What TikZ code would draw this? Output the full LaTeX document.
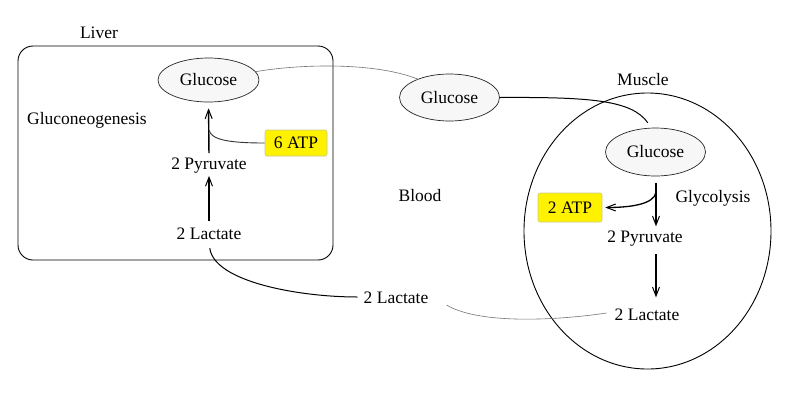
\documentclass[tikz,border=0pt]{standalone}
\usepackage{fontspec}
\setmainfont{Liberation Serif}
\usetikzlibrary{shapes.geometric,arrows.meta,calc}
\definecolor{ellfill}{HTML}{F7F7F7}
\definecolor{atpborder}{HTML}{C8C890}
\begin{document}
\begin{tikzpicture}[x=1pt,y=-1pt,
  every node/.style={font=\fontsize{17.5}{20}\selectfont, inner sep=2pt},
  mol/.style={ellipse, draw=black!85, fill=ellfill, line width=0.7pt, inner sep=0pt},
  atpbox/.style={rectangle, rounded corners=2pt, draw=atpborder, fill=yellow, line width=0.6pt, inner sep=0pt},
  lbl/.style={},
  arr/.style={line width=1.4pt, -{Straight Barb[length=9pt,width=7pt,line width=1pt]}},
  thinlink/.style={draw=black!55, line width=0.6pt},
  darklink/.style={draw=black, line width=1pt},
  organ/.style={draw=black, line width=0.9pt}
]
\useasboundingbox (0,0) rectangle (800,400);

% compartments
\node[organ, rectangle, rounded corners=15pt, minimum width=315pt, minimum height=214pt] (liver) at (175.5,153) {};
\node[organ, ellipse, minimum width=247pt, minimum height=276pt] (muscle) at (647.5,231) {};

% labels
\node[lbl] (liverlbl) at (99,33) {Liver};
\node[lbl] (musclelbl) at (643,80) {Muscle};
\node[lbl] (gluconeo) at (87,120) {Gluconeogenesis};
\node[lbl] (blood) at (420,196) {Blood};
\node[lbl] (glyco) at (713,198) {Glycolysis};

% liver
\node[mol, minimum width=101pt, minimum height=44pt] (lglu) at (208.5,80) {Glucose};
\node[atpbox, minimum width=62pt, minimum height=26pt] (atp6) at (296,143) {6 ATP};
\node (lpyr) at (209,166) {2 Pyruvate};
\node (llac) at (209,234) {2 Lactate};

% blood
\node[mol, minimum width=100pt, minimum height=47pt] (bglu) at (449.5,97.5) {Glucose};
\node (mlac) at (396,298) {2 Lactate};

% muscle
\node[mol, minimum width=100pt, minimum height=48pt] (rglu) at (655.5,152) {Glucose};
\node[atpbox, minimum width=64pt, minimum height=29pt] (atp2) at (570,207.5) {2 ATP};
\node (rpyr) at (645,239) {2 Pyruvate};
\node (rlac) at (647,315) {2 Lactate};

% liver arrows
\draw[arr, shorten <=5pt] (llac.north) -- (lpyr.south);
\draw[arr, shorten <=3pt, shorten >=6pt] (lpyr.north) -- (lglu.south);
\coordinate (j6) at (209,130);
\draw[line width=0.9pt, draw=black!80] (atp6.west) .. controls (230,143) and (211,140) .. (j6);

% muscle arrows
\coordinate (m1) at ($(rglu.south)+(0.5,7)$);
\coordinate (m2) at ($(rglu.south)+(0.5,50)$);
\coordinate (m3) at ($(rglu.south)+(0.5,78)$);
\coordinate (m4) at ($(rglu.south)+(0.5,121)$);
\draw[arr] (m1) -- (m2);
\draw[arr] (m3) -- (m4);
\coordinate (j2) at ($(rglu.south)+(0.5,16)$);
\draw[line width=1.3pt, -{Straight Barb[length=9pt,width=7pt,line width=1pt]}, shorten >=3pt]
  (j2) .. controls ($(j2)+(-2,12)$) and (630,207.5) .. (atp2.east);

% connectors
\draw[thinlink] (lglu.10) .. controls (300,64) and (375,62) .. (bglu.150);
\draw[darklink, shorten >=6pt] (bglu.east) .. controls (590,97) and (632,100) .. (rglu.100);
\draw[darklink, shorten <=6pt] (llac.south) .. controls ($(llac.south)+(5,40)$) and (300,297) .. ($(mlac.west)+(-4,-1)$);
\draw[thinlink] ($(mlac.east)+(16,7)$) .. controls (480,325) and (560,320) .. ($(rlac.west)+(-6,-2)$);
\end{tikzpicture}
\end{document}
